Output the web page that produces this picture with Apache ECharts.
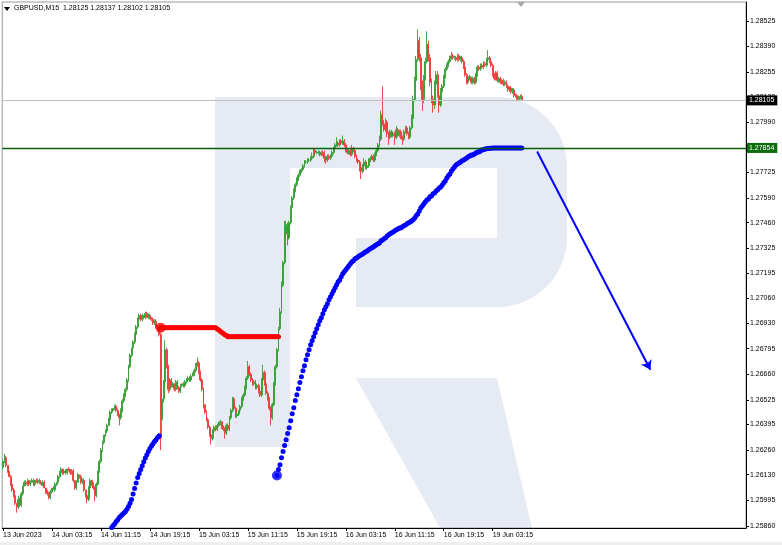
<!DOCTYPE html>
<html><head><meta charset="utf-8">
<script src="https://cdn.jsdelivr.net/npm/echarts@6/dist/echarts.min.js"></script>
<style>html,body{margin:0;padding:0;background:#fff}#c{width:782px;height:545px}</style>
</head><body><div id="c"></div><script>
// ---- data ----
const tickLabelsX = ['13 Jun 2023','14 Jun 03:15','14 Jun 11:15','14 Jun 19:15','15 Jun 03:15','15 Jun 11:15','15 Jun 19:15','16 Jun 03:15','16 Jun 11:15','16 Jun 19:15','19 Jun 03:15'];
const barsPerLabel = 32;
const slotCount = 486;
const priceTicks = [1.25860,1.25995,1.26130,1.26260,1.26395,1.26525,1.26660,1.26795,1.26930,1.27060,1.27195,1.27325,1.27460,1.27590,1.27725,1.27855,1.27990,1.28120,1.28255,1.28390,1.28525];
const firstOpen = 1.2617;
const closes = [
1.2620,1.2622,1.2618,1.2615,1.2612,1.2608,1.2605,1.2602,1.2598,1.2596,
1.2600,1.2597,1.2603,1.2607,1.2609,1.2608,1.2610,1.2608,1.2609,1.2610,
1.2608,1.2610,1.2609,1.2610,1.2609,1.2608,1.2609,1.2606,1.2604,1.2603,
1.2601,1.2604,1.2606,1.2605,1.2608,1.2609,1.2612,1.2614,1.2616,1.2614,
1.2615,1.2614,1.2616,1.2615,1.2614,1.2615,1.2610,1.2606,1.2609,1.2613,
1.2612,1.2609,1.2610,1.2605,1.2602,1.2600,1.2606,1.2610,1.2608,1.2606,
1.2602,1.2608,1.2615,1.2620,1.2626,1.2630,1.2634,1.2636,1.2639,1.2642,
1.2646,1.2647,1.2648,1.2649,1.2647,1.2645,1.2643,1.2647,1.2652,1.2655,
1.2658,1.2663,1.2670,1.2676,1.2680,1.2683,1.2687,1.2691,1.2695,1.2697,
1.2695,1.2697,1.2696,1.2698,1.2696,1.2697,1.2696,1.2695,1.2693,1.2694,
1.2691,1.2690,1.2687,1.2642,1.2653,1.2662,1.2679,1.2670,1.2658,1.2663,
1.2660,1.2661,1.2658,1.2662,1.2659,1.2657,1.2660,1.2661,1.2660,1.2662,
1.2663,1.2664,1.2663,1.2665,1.2666,1.2668,1.2671,1.2672,1.2667,1.2663,
1.2658,1.2650,1.2646,1.2642,1.2638,1.2634,1.2632,1.2636,1.2638,1.2637,
1.2639,1.2640,1.2641,1.2638,1.2637,1.2635,1.2639,1.2637,1.2643,1.2647,
1.2653,1.2648,1.2644,1.2645,1.2647,1.2649,1.2653,1.2655,1.2659,1.2664,
1.2670,1.2666,1.2663,1.2661,1.2662,1.2659,1.2660,1.2657,1.2655,1.2663,
1.2667,1.2661,1.2656,1.2653,1.2648,1.2643,1.2650,1.2661,1.2670,1.2679,
1.2690,1.2699,1.2713,1.2725,1.2740,1.2745,1.2738,1.2746,1.2754,1.2759,
1.2763,1.2766,1.2769,1.2771,1.2773,1.2774,1.2776,1.2778,1.2778,1.2779,
1.2779,1.2780,1.2781,1.2784,1.2783,1.2783,1.2783,1.2782,1.2783,1.2782,
1.2780,1.2779,1.2781,1.2780,1.2781,1.2783,1.2785,1.2787,1.2788,1.2787,
1.2789,1.2788,1.2789,1.2787,1.2784,1.2783,1.2784,1.2782,1.2785,1.2784,
1.2781,1.2779,1.2778,1.2775,1.2773,1.2776,1.2778,1.2775,1.2776,1.2779,
1.2780,1.2781,1.2779,1.2782,1.2784,1.2787,1.2790,1.2803,1.2798,1.2795,
1.2799,1.2793,1.2791,1.2794,1.2792,1.2793,1.2791,1.2795,1.2792,1.2794,
1.2791,1.2790,1.2794,1.2796,1.2793,1.2791,1.2796,1.2801,1.2811,1.2821,
1.2832,1.2842,1.2833,1.2819,1.2811,1.2822,1.2831,1.2840,1.2833,1.2820,
1.2811,1.2808,1.2819,1.2824,1.2813,1.2808,1.2815,1.2818,1.2823,1.2827,
1.2829,1.2831,1.2833,1.2834,1.2833,1.2833,1.2832,1.2834,1.2832,1.2833,
1.2831,1.2828,1.2824,1.2820,1.2823,1.2822,1.2820,1.2822,1.2820,1.2824,
1.2828,1.2827,1.2829,1.2828,1.2830,1.2829,1.2832,1.2833,1.2831,1.2829,
1.2824,1.2822,1.2825,1.2821,1.2822,1.2820,1.2821,1.2819,1.2820,1.2818,
1.2816,1.2817,1.2815,1.2816,1.2813,1.2813,1.2811,1.2812,1.28125,1.28105];
// wick lengths beyond the body, in pips
const wickUp = [
1,2,1,0,1,1,0,1,1,0, 2,1,1,0,1,1,1,0,1,1,
1,0,1,1,1,0,1,1,0,1, 1,1,0,1,1,0,1,1,1,0,
1,1,0,1,1,1,1,0,1,1, 0,1,1,1,0,1,1,1,0,1,
1,1,0,1,1,1,0,1,1,1, 1,1,0,1,1,1,0,1,1,1,
1,1,1,1,0,1,1,1,1,1, 1,1,0,1,1,1,1,0,1,1,
1,1,1,1,1,1,5,1,1,1, 1,1,0,1,1,1,1,0,1,1,
1,1,1,1,1,1,1,3,1,1, 1,1,0,1,1,1,1,1,1,1,
1,1,1,0,1,1,1,1,1,1, 1,1,1,1,0,1,1,1,1,1,
3,1,1,1,1,1,1,1,1,1, 4,1,1,1,1,1,1,1,1,1,
1,2,2,1,7,2,1,1,1,1, 1,1,1,1,1,1,1,1,1,1,
1,1,2,1,1,1,1,1,1,1, 2,1,1,1,1,1,1,1,3,1,
1,1,3,1,1,1,1,1,2,1, 1,1,1,1,1,1,2,1,1,1,
1,1,1,1,1,1,2,2,15,2, 2,1,1,1,1,1,1,2,1,1,
1,1,1,1,1,1,1,2,2,2, 2,6,2,2,2,2,2,7,2,2,
2,2,2,2,2,2,2,1,1,1, 1,1,1,2,1,1,1,1,1,1,
1,1,1,1,1,1,1,1,1,1, 1,1,1,1,1,1,1,4,1,1,
1,1,1,1,1,1,1,1,1,1, 1,1,1,1,1,1,1,1,1,1.2];
const wickDn = [
1,1,1,1,0,1,1,1,1,3, 1,1,1,1,0,1,1,1,1,0,
1,1,0,1,1,1,1,0,1,1, 1,1,1,0,1,1,1,1,0,1,
1,1,1,0,1,1,1,1,1,0, 1,1,1,1,1,2,1,1,1,1,
3,1,1,1,1,1,1,1,1,0, 1,1,1,1,1,1,4,1,1,1,
1,1,1,1,1,1,1,0,1,1, 1,1,1,1,0,1,1,1,1,1,
1,1,1,16,10,2,1,1,2,1, 1,1,1,1,1,1,1,1,1,1,
1,1,1,1,0,1,1,1,1,1, 1,2,1,1,1,1,3,1,1,1,
1,1,1,1,1,3,1,1,1,1, 1,1,1,1,1,1,1,1,1,1,
1,1,1,1,1,1,1,1,1,1, 1,1,1,1,1,4,1,1,1,1,
1,1,1,1,1,1,4,1,1,1, 1,1,1,1,1,1,1,1,1,1,
1,1,1,1,1,1,1,1,1,1, 2,2,1,1,1,1,1,1,1,1,
1,1,1,1,1,1,1,1,1,1, 1,1,1,2,4,1,1,1,1,1,
1,1,1,1,1,1,1,1,1,1, 1,2,4,1,1,1,4,1,1,1,
1,3,1,1,1,1,1,1,1,1, 1,1,2,3,6,2,1,1,2,2,
2,4,2,1,1,4,1,1,1,1, 1,1,1,1,1,1,1,1,1,1,
1,1,1,1,1,1,1,1,1,1, 1,1,1,1,1,1,1,1,1,1,
1,1,1,1,1,1,1,1,1,1, 1,1,1,1,1,1,1,1,1,0.3];
// red trailing level (bars 103..180)
const redStart = 103;
const redLevel = [
1.26905,1.26905,1.26905,1.26905,1.26905,1.26905,1.26905,1.26905,1.26905,1.26905,
1.26905,1.26905,1.26905,1.26905,1.26905,1.26905,1.26905,1.26905,1.26905,1.26905,
1.26905,1.26905,1.26905,1.26905,1.26905,1.26905,1.26905,1.26905,1.26905,1.26905,
1.26905,1.26905,1.26905,1.26905,1.26905,1.26905,1.26905,
1.26899,1.26893,1.26887,1.26881,1.26875,1.26869,1.26864,
1.26858,1.26858,1.26858,1.26858,1.26858,1.26858,1.26858,1.26858,1.26858,1.26858,
1.26858,1.26858,1.26858,1.26858,1.26858,1.26858,1.26858,1.26858,1.26858,1.26858,
1.26858,1.26858,1.26858,1.26858,1.26858,1.26858,1.26858,1.26858,1.26858,1.26858,
1.26858,1.26858,1.26858,1.26858];
// blue trailing level, first leg (bars 66..102)
const blueAStart = 66;
const blueA = [1.2580,1.2581,1.2582,1.25831,1.25841,1.25851,1.25862,1.25872,1.25883,1.25893,
1.25904,1.25912,1.25920,1.25928,1.25936,1.25948,1.25962,1.25980,1.25999,1.26028,
1.26057,1.26086,1.26115,1.26136,1.26157,1.26178,1.26199,1.26218,1.26236,1.26252,
1.26268,1.26281,1.26294,1.26305,1.26315,1.26326,1.26336];
// blue trailing level, second leg (bars 179..339)
const blueBStart = 179;
const blueB = [
1.26126,1.26157,1.26183,1.26220,1.26252,1.26284,1.26315,1.26347,1.26378,1.26415,
1.26452,1.26484,1.26521,1.26552,1.26584,1.26616,1.26647,1.26679,1.26705,1.26737,
1.26763,1.26790,1.26816,1.26837,1.26858,1.26879,1.26900,1.26921,1.26942,1.26958,
1.26979,1.27000,1.27016,1.27032,1.27053,1.27069,1.27085,1.27100,1.27116,1.27132,
1.27148,1.27158,1.27174,1.27190,1.27201,1.27211,1.27222,1.27232,1.27243,1.27253,
1.27259,1.27269,1.27274,1.27280,1.27285,1.27290,1.27295,1.27301,1.27306,1.27311,
1.27317,1.27322,1.27327,1.27332,1.27338,1.27343,1.27348,1.27353,1.27364,1.27369,
1.27375,1.27380,1.27390,1.27396,1.27401,1.27406,1.27411,1.27417,1.27422,1.27427,
1.27432,1.27432,1.27438,1.27443,1.27448,1.27454,1.27459,1.27464,1.27469,1.27475,
1.27485,1.27496,1.27506,1.27522,1.27538,1.27548,1.27559,1.27570,1.27580,1.27585,
1.27596,1.27601,1.27612,1.27617,1.27627,1.27633,1.27643,1.27648,1.27659,1.27670,
1.27680,1.27696,1.27707,1.27717,1.27733,1.27743,1.27754,1.27764,1.27770,1.27775,
1.27780,1.27786,1.27791,1.27796,1.27801,1.27807,1.27812,1.27817,1.27817,1.27822,
1.27828,1.27833,1.27833,1.27838,1.27844,1.27844,1.27848,1.27850,1.27851,1.27852,
1.27853,1.27854,1.27854,1.27854,1.27854,1.27854,1.27854,1.27854,1.27854,1.27854,
1.27854,1.27854,1.27854,1.27854,1.27854,1.27854,1.27854,1.27854,1.27854,1.27854,
1.27854];
const bidPrice = 1.28105;
const levelPrice = 1.27854;
const arrowFrom = [349, 1.27835];
const arrowTo = [423, 1.26684];
const headerText = 'GBPUSD,M15  1.28125 1.28137 1.28102 1.28105';

// ---- build ----
const pip = 0.0001;
const cats = Array.from({length: slotCount}, (_, i) => String(i));
const candles = closes.map((c, i) => {
  const o = i ? closes[i-1] : firstOpen;
  const hi = Math.max(o, c) + wickUp[i] * pip;
  const lo = Math.min(o, c) - wickDn[i] * pip;
  return [o, c, +lo.toFixed(5), +hi.toFixed(5)];
});
function place(start, arr) {
  const out = new Array(closes.length).fill(null);
  arr.forEach((v, k) => { out[start + k] = v; });
  return out;
}
const isLabel = (idx) => idx % barsPerLabel === 0 && idx / barsPerLabel < tickLabelsX.length;
const FONT = 'Liberation Sans';
const LOGO = '#e5eaf3';
const priceBox = (bg, v) => ({show: true, position: 'end', distance: 1, formatter: v.toFixed(5),
  backgroundColor: bg, color: '#fff', fontSize: 7, fontFamily: FONT, padding: [2, 3, 1, 2]});

const chart = echarts.init(document.getElementById('c'), null, {renderer: 'canvas'});
chart.setOption({
  animation: false,
  backgroundColor: '#fff',
  grid: {left: 2, right: 36, top: 2, bottom: 17, show: true, borderColor: '#9a9a9a', borderWidth: 1, backgroundColor: 'transparent'},
  xAxis: {
    type: 'category', data: cats, boundaryGap: true,
    axisLine: {lineStyle: {color: '#000', width: 1}},
    axisTick: {show: true, interval: (i) => isLabel(i), alignWithLabel: true, length: 3, lineStyle: {color: '#000'}},
    axisLabel: {interval: (i) => isLabel(i), formatter: (v, i) => tickLabelsX[Math.round(i / barsPerLabel)] || '',
      align: 'left', fontSize: 7, color: '#000', margin: 4, fontFamily: FONT},
    splitLine: {show: false}
  },
  yAxis: {
    type: 'value', position: 'right', min: 1.25849, max: 1.28624, scale: true,
    axisLine: {show: true, lineStyle: {color: '#000', width: 1}},
    axisTick: {show: true, length: 3, customValues: priceTicks, lineStyle: {color: '#000'}},
    axisLabel: {customValues: priceTicks, formatter: (v) => v.toFixed(5), fontSize: 7, color: '#000', margin: 4, fontFamily: FONT},
    splitLine: {show: false}
  },
  graphic: [
    // watermark logo
    {type: 'rect', z: -10, silent: true, shape: {x: 215, y: 97, width: 352, height: 210, r: [0, 70, 70, 0]}, style: {fill: LOGO}},
    {type: 'rect', z: -9, silent: true, shape: {x: 290, y: 168, width: 207, height: 70}, style: {fill: '#fff'}},
    {type: 'rect', z: -9, silent: true, shape: {x: 290, y: 238, width: 66, height: 69}, style: {fill: '#fff'}},
    {type: 'rect', z: -8, silent: true, shape: {x: 215, y: 97, width: 75, height: 350}, style: {fill: LOGO}},
    {type: 'polygon', z: -8, silent: true, shape: {points: [[356,378],[497,378],[532,528],[440,528]]}, style: {fill: LOGO}},
    // header
    {type: 'polygon', z: 10, silent: true, shape: {points: [[4,7],[10,7],[7,11]]}, style: {fill: '#000'}},
    {type: 'text', z: 10, silent: true, x: 14, y: 5, style: {text: headerText, fontSize: 7, fontFamily: FONT, fill: '#000'}},
    // chart shift marker
    {type: 'polygon', z: 10, silent: true, shape: {points: [[517,2],[525,2],[521,7]]}, style: {fill: '#a8a8a8'}},
    // bottom strip
    {type: 'rect', z: -5, silent: true, shape: {x: 0, y: 542, width: 782, height: 3}, style: {fill: '#eeeeee'}}
  ],
  series: [
    {
      type: 'candlestick', data: candles, barWidth: 1.4,
      itemStyle: {color: '#33a033', color0: '#f03a3a', borderColor: '#33a033', borderColor0: '#f03a3a', borderWidth: 1, opacity: 0.9},
      z: 3
    },
    {
      type: 'line', data: place(redStart, redLevel), showSymbol: true, showAllSymbol: true, symbol: 'circle', symbolSize: 5,
      itemStyle: {color: '#ff0000'}, lineStyle: {width: 4, color: '#ff0000'}, z: 4
    },
    {
      type: 'line', data: place(blueAStart, blueA), showSymbol: true, showAllSymbol: true, symbol: 'circle', symbolSize: 5,
      itemStyle: {color: '#0000ff'}, lineStyle: {opacity: 0}, z: 4,
      markLine: {
        silent: true, symbol: ['none', 'none'], animation: false, precision: 5,
        data: [
          {yAxis: bidPrice, lineStyle: {color: '#c0c0c0', width: 1, type: 'solid'}, label: priceBox('#000', bidPrice)},
          {yAxis: levelPrice, lineStyle: {color: '#0b5d0b', width: 1.3, type: 'solid'}, label: priceBox('#0b6e0b', levelPrice)}
        ]
      }
    },
    {
      type: 'line', data: place(blueBStart, blueB), showSymbol: true, showAllSymbol: true, symbol: 'circle', symbolSize: 5,
      itemStyle: {color: '#0000ff'}, lineStyle: {opacity: 0}, z: 4,
      markLine: {
        silent: true, symbol: ['none', 'arrow'], symbolSize: 9, animation: false, precision: 5,
        lineStyle: {color: '#0000ff', width: 2, type: 'solid', opacity: 1}, label: {show: false},
        data: [[{coord: arrowFrom}, {coord: arrowTo}]]
      }
    },
    {
      type: 'scatter', data: [[redStart, redLevel[0]]], symbolSize: 10, itemStyle: {color: '#ff0000'}, z: 5
    },
    {
      type: 'scatter', data: [[blueBStart, blueB[0]]], symbolSize: 10, itemStyle: {color: '#0000ff'}, z: 5
    }
  ]
});
</script></body></html>
